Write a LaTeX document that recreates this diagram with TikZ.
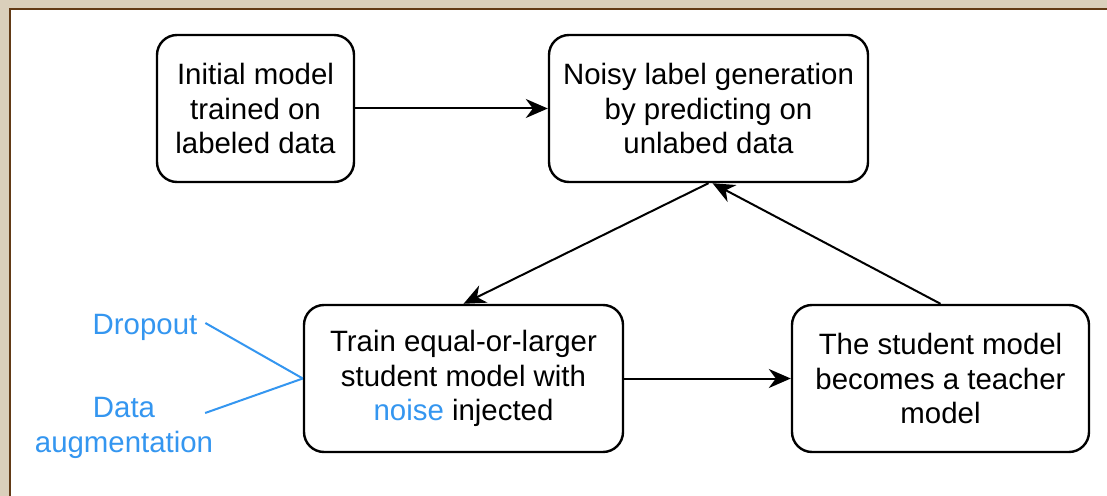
\documentclass[tikz,border=0pt]{standalone}
\usepackage{fontspec}
\setmainfont{Liberation Sans}
\usetikzlibrary{arrows.meta}
\definecolor{paper}{RGB}{218,207,187}
\definecolor{frame}{RGB}{98,58,22}
\definecolor{noiseblue}{RGB}{52,150,240}
\begin{document}
\begin{tikzpicture}[
    x=0.5pt, y=-0.5pt,
    stage/.style={rectangle, rounded corners=10pt, draw, line width=1.2pt, fill=white, align=center,
        minimum height=73.5pt, font=\fontsize{14.7}{17.2}\selectfont},
    flow/.style={-{Stealth[length=11pt, width=9.5pt, inset=3.5pt]}, line width=1pt},
    noisetag/.style={text=noiseblue, align=center, font=\fontsize{14.7}{17.2}\selectfont},
    feed/.style={draw=noiseblue, line width=1pt}
]
    % Background
    \useasboundingbox (0,0) rectangle (1107,496);
    \fill[paper] (0,0) rectangle (1107,496);
    \filldraw[fill=white, draw=frame, line width=1.1pt] (10,9) rectangle (1130,520);

    % Stages
    \node[stage, minimum width=98.5pt] (init) at (255.5,108.5) {Initial model\\trained on\\labeled data};
    \node[stage, minimum width=159.5pt] (noisy) at (708.5,108.5) {Noisy label generation\\by predicting on\\unlabed data};
    \node[stage, minimum width=159.5pt] (train) at (463.5,378.5) {Train equal-or-larger\\student model with\\\textcolor{noiseblue}{noise} injected};
    \node[stage, minimum width=148.5pt] (teacher) at (940.5,378.5) {The student model\\becomes a teacher\\model};

    % Noise sources
    \node[noisetag] (dropout) at (145,327) {Dropout};
    \node[noisetag] (augment) at (124,428) {Data\\augmentation};

    % Loop
    \draw[flow] (init) -- (noisy);
    \draw[flow] (noisy.south) -- (train.north);
    \draw[flow] (train) -- (teacher);
    \draw[flow] (teacher.north) -- ([xshift=2pt]noisy.south);

    % Noise feeds
    \draw[feed] (dropout.east) ++(1,-4) -- (train.west);
    \draw[feed] (augment.east) ++(-15,-15) -- (train.west);
\end{tikzpicture}
\end{document}
